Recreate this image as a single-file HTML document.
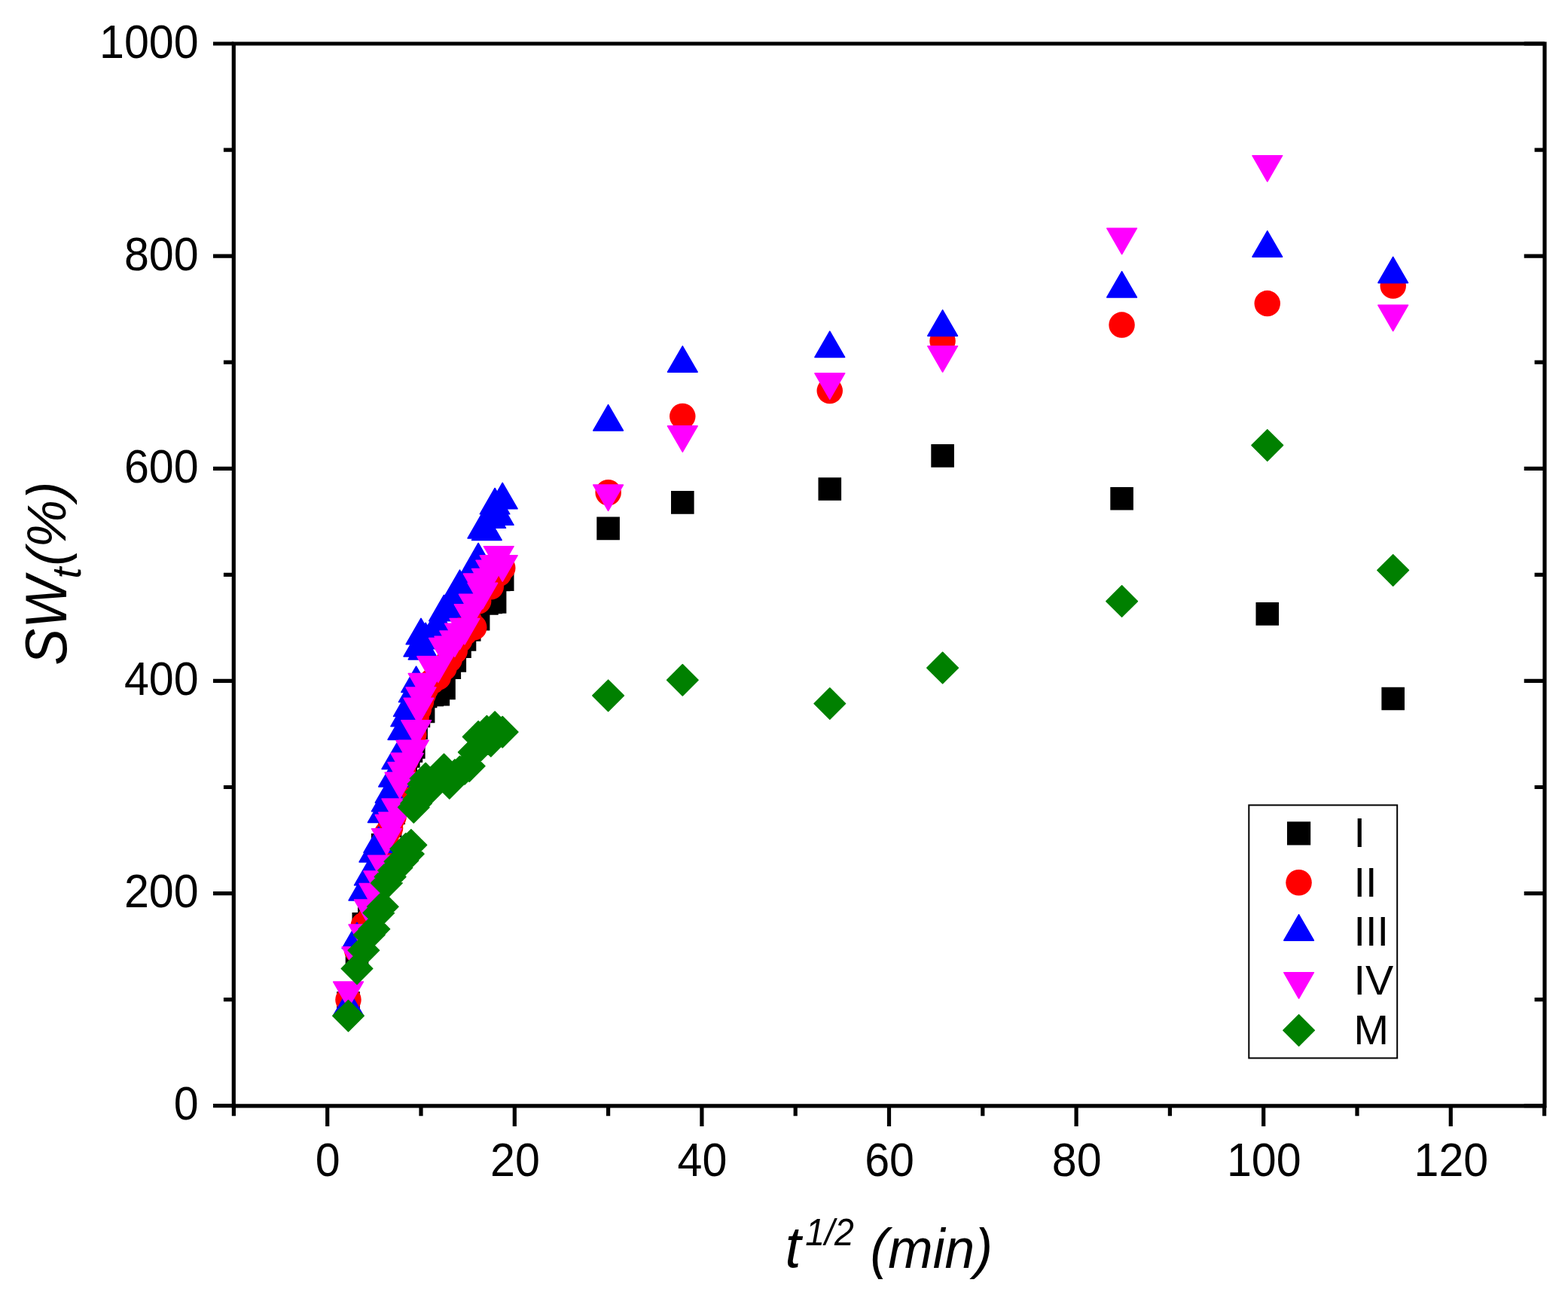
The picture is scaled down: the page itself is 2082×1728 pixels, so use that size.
<!DOCTYPE html>
<html><head><meta charset="utf-8"><title>SWt vs t1/2</title>
<style>
html,body{margin:0;padding:0;background:#fff;}
body{width:2082px;height:1728px;overflow:hidden;}
svg{display:block;}
text{font-family:"Liberation Sans",Arial,sans-serif;fill:#000;}
</style></head>
<body>
<svg width="2082" height="1728" viewBox="0 0 2082 1728">
<rect width="2082" height="1728" fill="#fff"/>
<path fill="#000000" d="M447.2 1317h30.6v30.6h-30.6zM458.7 1250.7h30.6v30.6h-30.6zM467.5 1212.1h30.6v30.6h-30.6zM475 1204.7h30.6v30.6h-30.6zM481.5 1179.7h30.6v30.6h-30.6zM487.5 1159.7h30.6v30.6h-30.6zM492.9 1106.9h30.6v30.6h-30.6zM498 1104.7h30.6v30.6h-30.6zM502.8 1081.7h30.6v30.6h-30.6zM507.3 1064.4h30.6v30.6h-30.6zM511.6 1044.7h30.6v30.6h-30.6zM515.7 1029.7h30.6v30.6h-30.6zM519.6 1014.7h30.6v30.6h-30.6zM523.4 999.7h30.6v30.6h-30.6zM527 989.1h30.6v30.6h-30.6zM530.6 982.1h30.6v30.6h-30.6zM534 977.2h30.6v30.6h-30.6zM537.3 951.7h30.6v30.6h-30.6zM540.6 935.7h30.6v30.6h-30.6zM543.7 929.7h30.6v30.6h-30.6zM546.8 929.7h30.6v30.6h-30.6zM549.8 909.7h30.6v30.6h-30.6zM558.4 907.7h30.6v30.6h-30.6zM566.5 906.9h30.6v30.6h-30.6zM574.2 898.6h30.6v30.6h-30.6zM581.5 871.3h30.6v30.6h-30.6zM588.5 862.1h30.6v30.6h-30.6zM595.2 843.4h30.6v30.6h-30.6zM601.7 834.1h30.6v30.6h-30.6zM607.9 821.2h30.6v30.6h-30.6zM614 805.7h30.6v30.6h-30.6zM619.8 806.8h30.6v30.6h-30.6zM625.5 784.7h30.6v30.6h-30.6zM631.1 786.2h30.6v30.6h-30.6zM636.5 784.7h30.6v30.6h-30.6zM641.8 784.2h30.6v30.6h-30.6zM646.9 754.7h30.6v30.6h-30.6zM651.9 754.3h30.6v30.6h-30.6zM792.3 686.6h30.6v30.6h-30.6zM891 652.1h30.6v30.6h-30.6zM1086.5 634.2h30.6v30.6h-30.6zM1236.3 590.1h30.6v30.6h-30.6zM1474.3 647h30.6v30.6h-30.6zM1667.5 800.1h30.6v30.6h-30.6zM1834.4 912.7h30.6v30.6h-30.6z"/>
<path fill="#ff0000" d="M445.2 1327.8a17.2 17.2 0 1 0 34.5 0a17.2 17.2 0 1 0 -34.5 0zM456.8 1262a17.2 17.2 0 1 0 34.5 0a17.2 17.2 0 1 0 -34.5 0zM465.6 1229a17.2 17.2 0 1 0 34.5 0a17.2 17.2 0 1 0 -34.5 0zM473 1222a17.2 17.2 0 1 0 34.5 0a17.2 17.2 0 1 0 -34.5 0zM479.6 1192a17.2 17.2 0 1 0 34.5 0a17.2 17.2 0 1 0 -34.5 0zM485.5 1172a17.2 17.2 0 1 0 34.5 0a17.2 17.2 0 1 0 -34.5 0zM491 1142a17.2 17.2 0 1 0 34.5 0a17.2 17.2 0 1 0 -34.5 0zM496.1 1108a17.2 17.2 0 1 0 34.5 0a17.2 17.2 0 1 0 -34.5 0zM500.8 1100a17.2 17.2 0 1 0 34.5 0a17.2 17.2 0 1 0 -34.5 0zM505.3 1085a17.2 17.2 0 1 0 34.5 0a17.2 17.2 0 1 0 -34.5 0zM509.6 1062a17.2 17.2 0 1 0 34.5 0a17.2 17.2 0 1 0 -34.5 0zM513.7 1045a17.2 17.2 0 1 0 34.5 0a17.2 17.2 0 1 0 -34.5 0zM517.7 1023a17.2 17.2 0 1 0 34.5 0a17.2 17.2 0 1 0 -34.5 0zM521.4 1010a17.2 17.2 0 1 0 34.5 0a17.2 17.2 0 1 0 -34.5 0zM525.1 1000a17.2 17.2 0 1 0 34.5 0a17.2 17.2 0 1 0 -34.5 0zM528.6 990a17.2 17.2 0 1 0 34.5 0a17.2 17.2 0 1 0 -34.5 0zM532 975.5a17.2 17.2 0 1 0 34.5 0a17.2 17.2 0 1 0 -34.5 0zM535.4 953a17.2 17.2 0 1 0 34.5 0a17.2 17.2 0 1 0 -34.5 0zM538.6 942a17.2 17.2 0 1 0 34.5 0a17.2 17.2 0 1 0 -34.5 0zM541.8 932a17.2 17.2 0 1 0 34.5 0a17.2 17.2 0 1 0 -34.5 0zM544.8 922a17.2 17.2 0 1 0 34.5 0a17.2 17.2 0 1 0 -34.5 0zM547.8 915a17.2 17.2 0 1 0 34.5 0a17.2 17.2 0 1 0 -34.5 0zM556.4 905a17.2 17.2 0 1 0 34.5 0a17.2 17.2 0 1 0 -34.5 0zM564.5 899.6a17.2 17.2 0 1 0 34.5 0a17.2 17.2 0 1 0 -34.5 0zM572.2 887.4a17.2 17.2 0 1 0 34.5 0a17.2 17.2 0 1 0 -34.5 0zM579.5 876a17.2 17.2 0 1 0 34.5 0a17.2 17.2 0 1 0 -34.5 0zM586.5 864.5a17.2 17.2 0 1 0 34.5 0a17.2 17.2 0 1 0 -34.5 0zM593.2 850a17.2 17.2 0 1 0 34.5 0a17.2 17.2 0 1 0 -34.5 0zM599.7 840.6a17.2 17.2 0 1 0 34.5 0a17.2 17.2 0 1 0 -34.5 0zM606 825a17.2 17.2 0 1 0 34.5 0a17.2 17.2 0 1 0 -34.5 0zM612 833.3a17.2 17.2 0 1 0 34.5 0a17.2 17.2 0 1 0 -34.5 0zM617.9 798.5a17.2 17.2 0 1 0 34.5 0a17.2 17.2 0 1 0 -34.5 0zM623.6 782a17.2 17.2 0 1 0 34.5 0a17.2 17.2 0 1 0 -34.5 0zM629.1 778a17.2 17.2 0 1 0 34.5 0a17.2 17.2 0 1 0 -34.5 0zM634.5 779.2a17.2 17.2 0 1 0 34.5 0a17.2 17.2 0 1 0 -34.5 0zM639.8 760a17.2 17.2 0 1 0 34.5 0a17.2 17.2 0 1 0 -34.5 0zM645 762a17.2 17.2 0 1 0 34.5 0a17.2 17.2 0 1 0 -34.5 0zM650 754.4a17.2 17.2 0 1 0 34.5 0a17.2 17.2 0 1 0 -34.5 0zM790.4 654.2a17.2 17.2 0 1 0 34.5 0a17.2 17.2 0 1 0 -34.5 0zM889 553a17.2 17.2 0 1 0 34.5 0a17.2 17.2 0 1 0 -34.5 0zM1084.5 519a17.2 17.2 0 1 0 34.5 0a17.2 17.2 0 1 0 -34.5 0zM1234.3 452.8a17.2 17.2 0 1 0 34.5 0a17.2 17.2 0 1 0 -34.5 0zM1472.3 431.6a17.2 17.2 0 1 0 34.5 0a17.2 17.2 0 1 0 -34.5 0zM1665.5 403.1a17.2 17.2 0 1 0 34.5 0a17.2 17.2 0 1 0 -34.5 0zM1832.5 379.6a17.2 17.2 0 1 0 34.5 0a17.2 17.2 0 1 0 -34.5 0z"/>
<path fill="#0000ff" stroke="#0000ff" stroke-width="1.6" stroke-linejoin="round" d="M462.5 1314.3L482.3 1348.6L442.7 1348.6zM474 1225.5L493.8 1259.8L454.2 1259.8zM482.8 1161.6L502.6 1195.9L463.1 1195.9zM490.3 1141.5L510.1 1175.8L470.5 1175.8zM496.8 1110.7L516.6 1145L477.1 1145zM502.8 1098.2L522.5 1132.5L483 1132.5zM508.2 1058.2L528 1092.5L488.5 1092.5zM513.3 1043.3L533.1 1077.6L493.5 1077.6zM518.1 1031.8L537.8 1066.1L498.3 1066.1zM522.6 1010.7L542.4 1045L502.8 1045zM526.9 987.1L546.7 1021.4L507.1 1021.4zM534.9 948.2L554.7 982.5L515.1 982.5zM538.7 930.5L558.5 964.8L518.9 964.8zM542.3 917.1L562.1 951.4L522.6 951.4zM545.9 911.4L565.6 945.7L526.1 945.7zM549.3 898.1L569.1 932.4L529.5 932.4zM552.6 885.1L572.4 919.4L532.9 919.4zM555.9 837.6L575.6 871.9L536.1 871.9zM559 821.4L578.8 855.7L539.2 855.7zM562.1 841.7L581.8 876L542.3 876zM565.1 827.3L584.8 861.6L545.3 861.6zM573.7 822.1L593.4 856.4L553.9 856.4zM581.8 807.1L601.5 841.4L562 841.4zM589.5 790.5L609.2 824.8L569.7 824.8zM596.8 785.1L616.5 819.4L577 819.4zM603.8 774.1L623.5 808.4L584 808.4zM610.5 757.2L630.3 791.5L590.7 791.5zM617 754.1L636.7 788.4L597.2 788.4zM623.2 743.1L643 777.4L603.4 777.4zM629.3 732.1L649 766.4L609.5 766.4zM635.1 721.5L654.9 755.8L615.4 755.8zM640.8 680.6L660.6 714.9L621.1 714.9zM646.4 683.1L666.1 717.4L626.6 717.4zM651.8 667L671.5 701.3L632 701.3zM657.1 648.5L676.8 682.8L637.3 682.8zM662.2 663L682 697.3L642.4 697.3zM667.2 641.4L687 675.7L647.5 675.7zM807.6 537.6L827.4 571.9L787.8 571.9zM906.3 459.8L926.1 494.1L886.5 494.1zM1101.8 440.1L1121.6 474.4L1082 474.4zM1251.6 411.8L1271.4 446.1L1231.8 446.1zM1489.6 360.7L1509.4 395L1469.8 395zM1682.8 306.8L1702.6 341.1L1663 341.1zM1849.7 341.3L1869.5 375.6L1829.9 375.6z"/>
<path fill="#ff00ff" stroke="#ff00ff" stroke-width="1.6" stroke-linejoin="round" d="M462.5 1338.3L482.3 1304L442.7 1304zM474 1292.2L493.8 1257.9L454.2 1257.9zM482.8 1262.3L502.6 1228L463.1 1228zM490.3 1229.3L510.1 1195L470.5 1195zM496.8 1207.8L516.6 1173.5L477.1 1173.5zM502.8 1191.4L522.5 1157.1L483 1157.1zM508.2 1170.7L528 1136.4L488.5 1136.4zM513.3 1135L533.1 1100.7L493.5 1100.7zM518.1 1116.6L537.8 1082.3L498.3 1082.3zM522.6 1113.4L542.4 1079.1L502.8 1079.1zM526.9 1095.4L546.7 1061.1L507.1 1061.1zM531 1060.4L550.7 1026.1L511.2 1026.1zM534.9 1046.9L554.7 1012.6L515.1 1012.6zM538.7 1034.7L558.5 1000.4L518.9 1000.4zM542.3 1034.9L562.1 1000.6L522.6 1000.6zM545.9 1017.9L565.6 983.6L526.1 983.6zM549.3 1017.6L569.1 983.3L529.5 983.3zM552.6 991.1L572.4 956.8L532.9 956.8zM555.9 961.5L575.6 927.2L536.1 927.2zM559 947.3L578.8 913L539.2 913zM562.1 928.8L581.8 894.5L542.3 894.5zM565.1 929.9L584.8 895.6L545.3 895.6zM573.7 906.2L593.4 871.9L553.9 871.9zM581.8 906.2L601.5 871.9L562 871.9zM589.5 881.8L609.2 847.5L569.7 847.5zM596.8 879.5L616.5 845.2L577 845.2zM603.8 872.4L623.5 838.1L584 838.1zM610.5 862.5L630.3 828.2L590.7 828.2zM617 855.9L636.7 821.6L597.2 821.6zM623.2 837.2L643 802.9L603.4 802.9zM629.3 823.6L649 789.3L609.5 789.3zM635.1 796.3L654.9 762L615.4 762zM640.8 808.7L660.6 774.4L621.1 774.4zM646.4 789.9L666.1 755.6L626.6 755.6zM651.8 778.5L671.5 744.2L632 744.2zM657.1 772.1L676.8 737.8L637.3 737.8zM662.2 760L682 725.7L642.4 725.7zM667.2 772.1L687 737.8L647.5 737.8zM807.6 678.4L827.4 644.1L787.8 644.1zM906.3 600.2L926.1 565.9L886.5 565.9zM1101.8 530.1L1121.6 495.8L1082 495.8zM1251.6 494L1271.4 459.7L1231.8 459.7zM1489.6 337.5L1509.4 303.2L1469.8 303.2zM1682.8 241L1702.6 206.7L1663 206.7zM1849.7 439.6L1869.5 405.3L1829.9 405.3z"/>
<path fill="#008000" stroke="#008000" stroke-width="1.6" stroke-linejoin="round" d="M462.5 1328.6L483.2 1349.3L462.5 1370L441.8 1349.3zM474 1265.8L494.7 1286.5L474 1307.2L453.3 1286.5zM482.8 1241.6L503.5 1262.3L482.8 1283L462.2 1262.3zM490.3 1221L511 1241.7L490.3 1262.4L469.6 1241.7zM496.8 1213.3L517.5 1234L496.8 1254.7L476.2 1234zM502.8 1191.8L523.5 1212.5L502.8 1233.2L482.1 1212.5zM508.2 1183.5L528.9 1204.2L508.2 1224.9L487.6 1204.2zM513.3 1152.2L534 1172.9L513.3 1193.6L492.6 1172.9zM518.1 1143.9L538.8 1164.6L518.1 1185.3L497.4 1164.6zM522.6 1135.5L543.3 1156.2L522.6 1176.9L501.9 1156.2zM526.9 1131.8L547.6 1152.5L526.9 1173.2L506.2 1152.5zM531 1123.7L551.7 1144.4L531 1165.1L510.3 1144.4zM534.9 1122.3L555.6 1143L534.9 1163.7L514.2 1143zM538.7 1106.8L559.4 1127.5L538.7 1148.2L518 1127.5zM542.3 1113.6L563 1134.3L542.3 1155L521.7 1134.3zM545.9 1101.7L566.5 1122.4L545.9 1143.1L525.2 1122.4zM549.3 1051.5L570 1072.2L549.3 1092.9L528.6 1072.2zM552.6 1046.3L573.3 1067L552.6 1087.7L532 1067zM555.9 1041.2L576.5 1061.9L555.9 1082.6L535.2 1061.9zM559 1031.3L579.7 1052L559 1072.7L538.3 1052zM562.1 1020.5L582.7 1041.2L562.1 1061.9L541.4 1041.2zM565.1 1013.3L585.7 1034L565.1 1054.7L544.4 1034zM573.7 1024.3L594.3 1045L573.7 1065.7L553 1045zM581.8 1015.3L602.4 1036L581.8 1056.7L561.1 1036zM589.5 1001.3L610.1 1022L589.5 1042.7L568.8 1022zM596.8 1019.5L617.4 1040.2L596.8 1060.9L576.1 1040.2zM603.8 1008.7L624.4 1029.4L603.8 1050.1L583.1 1029.4zM610.5 1004.3L631.2 1025L610.5 1045.7L589.8 1025zM617 1000.6L637.6 1021.3L617 1042L596.3 1021.3zM623.2 996.8L643.9 1017.5L623.2 1038.2L602.5 1017.5zM629.3 978.4L649.9 999.1L629.3 1019.8L608.6 999.1zM635.1 957.9L655.8 978.6L635.1 999.3L614.5 978.6zM640.8 956.3L661.5 977L640.8 997.7L620.2 977zM646.4 950.5L667 971.2L646.4 991.9L625.7 971.2zM651.8 963.5L672.4 984.2L651.8 1004.9L631.1 984.2zM657.1 945L677.7 965.7L657.1 986.4L636.4 965.7zM667.2 951.6L687.9 972.3L667.2 993L646.6 972.3zM807.6 903.2L828.3 923.9L807.6 944.6L786.9 923.9zM906.3 882.5L927 903.2L906.3 923.9L885.6 903.2zM1101.8 913.8L1122.5 934.5L1101.8 955.2L1081.1 934.5zM1251.6 866.4L1272.3 887.1L1251.6 907.8L1230.9 887.1zM1489.6 777.9L1510.3 798.6L1489.6 819.3L1468.9 798.6zM1682.8 570.7L1703.5 591.4L1682.8 612.1L1662.1 591.4zM1849.7 736.7L1870.4 757.4L1849.7 778.1L1829 757.4z"/>
<path d="M310.3 58.0H2051.0V1468.8H310.3Z" fill="none" stroke="#000" stroke-width="5.2" stroke-linejoin="miter" stroke-linecap="square"/>
<path d="M283 1468.7H310.3M2051 1468.7H2023.7M296.9 1327.6H310.3M2051 1327.6H2037.6M283 1186.6H310.3M2051 1186.6H2023.7M296.9 1045.5H310.3M2051 1045.5H2037.6M283 904.4H310.3M2051 904.4H2023.7M296.9 763.4H310.3M2051 763.4H2037.6M283 622.3H310.3M2051 622.3H2023.7M296.9 481.2H310.3M2051 481.2H2037.6M283 340.1H310.3M2051 340.1H2023.7M296.9 199.1H310.3M2051 199.1H2037.6M283 58H310.3M2051 58H2023.7M310.4 1468.8V1482.2M434.7 1468.8V1496.1M559 1468.8V1482.2M683.3 1468.8V1496.1M807.6 1468.8V1482.2M931.9 1468.8V1496.1M1056.2 1468.8V1482.2M1180.5 1468.8V1496.1M1304.8 1468.8V1482.2M1429.1 1468.8V1496.1M1553.4 1468.8V1482.2M1677.7 1468.8V1496.1M1802 1468.8V1482.2M1926.3 1468.8V1496.1M2050.6 1468.8V1482.2" stroke="#000" stroke-width="5.2" fill="none"/>
<g font-size="60">
<text transform="translate(263.6,1487.4) scale(0.986,1.061)" text-anchor="end">0</text>
<text transform="translate(263.6,1205.3) scale(0.986,1.061)" text-anchor="end">200</text>
<text transform="translate(263.6,923.1) scale(0.986,1.061)" text-anchor="end">400</text>
<text transform="translate(263.6,641) scale(0.986,1.061)" text-anchor="end">600</text>
<text transform="translate(263.6,358.8) scale(0.986,1.061)" text-anchor="end">800</text>
<text transform="translate(263.6,76.7) scale(0.986,1.061)" text-anchor="end">1000</text>
<text transform="translate(435.3,1562.2) scale(0.986,1.061)" text-anchor="middle">0</text>
<text transform="translate(683.9,1562.2) scale(0.986,1.061)" text-anchor="middle">20</text>
<text transform="translate(932.5,1562.2) scale(0.986,1.061)" text-anchor="middle">40</text>
<text transform="translate(1181.1,1562.2) scale(0.986,1.061)" text-anchor="middle">60</text>
<text transform="translate(1429.7,1562.2) scale(0.986,1.061)" text-anchor="middle">80</text>
<text transform="translate(1678.3,1562.2) scale(0.986,1.061)" text-anchor="middle">100</text>
<text transform="translate(1926.9,1562.2) scale(0.986,1.061)" text-anchor="middle">120</text>
</g>
<rect x="1658.3" y="1069.4" width="196.9" height="336" fill="#fff" stroke="#000" stroke-width="2"/>
<path fill="#000000" d="M1709 1091.3h31.2v31.2h-31.2z"/>
<text x="1797.6" y="1125.2" font-size="55.8">I</text>
<path fill="#ff0000" d="M1707.3 1172.3a17.2 17.2 0 1 0 34.5 0a17.2 17.2 0 1 0 -34.5 0z"/>
<text x="1797.6" y="1190.6" font-size="55.8">II</text>
<path fill="#0000ff" stroke="#0000ff" stroke-width="1.6" stroke-linejoin="round" d="M1724.6 1214.8L1744.4 1249.1L1704.8 1249.1z"/>
<text x="1797.6" y="1256" font-size="55.8">III</text>
<path fill="#ff00ff" stroke="#ff00ff" stroke-width="1.6" stroke-linejoin="round" d="M1724.6 1326L1744.4 1291.7L1704.8 1291.7z"/>
<text x="1797.6" y="1321.4" font-size="55.8">IV</text>
<path fill="#008000" stroke="#008000" stroke-width="1.6" stroke-linejoin="round" d="M1724.6 1347.8L1745.3 1368.5L1724.6 1389.2L1703.9 1368.5z"/>
<text x="1797.6" y="1386.8" font-size="55.8">M</text>
<g font-style="italic">
<text transform="translate(87.7,883.7) rotate(-90) scale(0.95,1)" font-size="76.9">SW</text>
<text transform="translate(106.8,768.4) rotate(-90)" font-size="53.3">t</text>
<text transform="translate(87.1,751.7) rotate(-90) scale(0.986,1)" font-size="72.9">(%)</text>
<text transform="translate(1042.6,1683.4) scale(0.977,1)" font-size="77.6">t</text>
<text transform="translate(1069.3,1654.1) scale(0.938,1)" font-size="49.5">1/2</text>
<text transform="translate(1155.5,1684.1) scale(0.968,1)" font-size="73.7">(min)</text>
</g>
</svg>
</body></html>
